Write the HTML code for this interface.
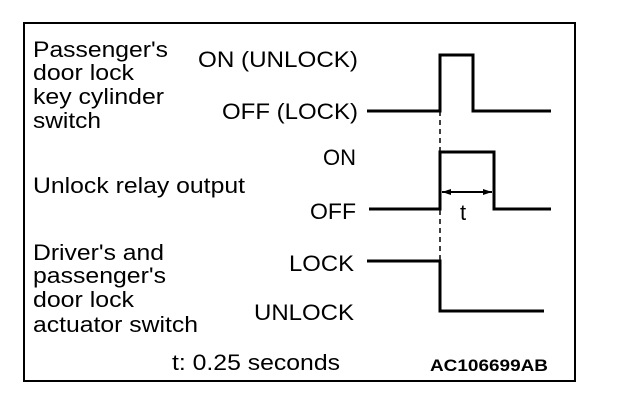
<!DOCTYPE html>
<html><head><meta charset="utf-8"><style>
html,body{margin:0;padding:0;background:#fff;}
</style></head><body>
<svg width="624" height="408" xmlns="http://www.w3.org/2000/svg" font-family="Liberation Sans, sans-serif" font-size="22" fill="#000">
<rect x="24" y="23" width="551" height="358" fill="none" stroke="#000" stroke-width="2"/>
<g lengthAdjust="spacingAndGlyphs">
<text x="33" y="57" textLength="135" lengthAdjust="spacingAndGlyphs">Passenger's</text>
<text x="33" y="80" textLength="101" lengthAdjust="spacingAndGlyphs">door lock</text>
<text x="33" y="104" textLength="131" lengthAdjust="spacingAndGlyphs">key cylinder</text>
<text x="33" y="128" textLength="68" lengthAdjust="spacingAndGlyphs">switch</text>
<text x="33" y="193" textLength="212" lengthAdjust="spacingAndGlyphs">Unlock relay output</text>
<text x="33" y="260" textLength="131" lengthAdjust="spacingAndGlyphs">Driver's and</text>
<text x="33" y="283" textLength="133" lengthAdjust="spacingAndGlyphs">passenger's</text>
<text x="33" y="307" textLength="101" lengthAdjust="spacingAndGlyphs">door lock</text>
<text x="33" y="332" textLength="165" lengthAdjust="spacingAndGlyphs">actuator switch</text>
<text x="198" y="67" textLength="160" lengthAdjust="spacingAndGlyphs">ON (UNLOCK)</text>
<text x="222" y="119" textLength="136" lengthAdjust="spacingAndGlyphs">OFF (LOCK)</text>
<text x="323" y="165" textLength="33" lengthAdjust="spacingAndGlyphs">ON</text>
<text x="310" y="219" textLength="46" lengthAdjust="spacingAndGlyphs">OFF</text>
<text x="289" y="271" textLength="65" lengthAdjust="spacingAndGlyphs">LOCK</text>
<text x="254" y="320" textLength="100" lengthAdjust="spacingAndGlyphs">UNLOCK</text>
<text x="172" y="370" textLength="168" lengthAdjust="spacingAndGlyphs">t: 0.25 seconds</text>
<text x="430" y="371" font-weight="bold" font-size="17" textLength="118" lengthAdjust="spacingAndGlyphs">AC106699AB</text>
</g>
<g fill="none" stroke="#000" stroke-width="3">
<polyline points="367,111 440,111 440,55 473,55 473,111 551,111"/>
<polyline points="369,209 440,209 440,152 494,152 494,209 551,209"/>
<polyline points="367,261 440,261 440,311 544,311"/>
</g>
<line x1="440" y1="111" x2="440" y2="261" stroke="#000" stroke-width="1.5" stroke-dasharray="5,4"/>
<line x1="442" y1="192" x2="492" y2="192" stroke="#000" stroke-width="2"/>
<polygon points="442,192 451,189 451,195"/>
<polygon points="492,192 483,189 483,195"/>
<text x="460" y="220">t</text>
</svg>
</body></html>
